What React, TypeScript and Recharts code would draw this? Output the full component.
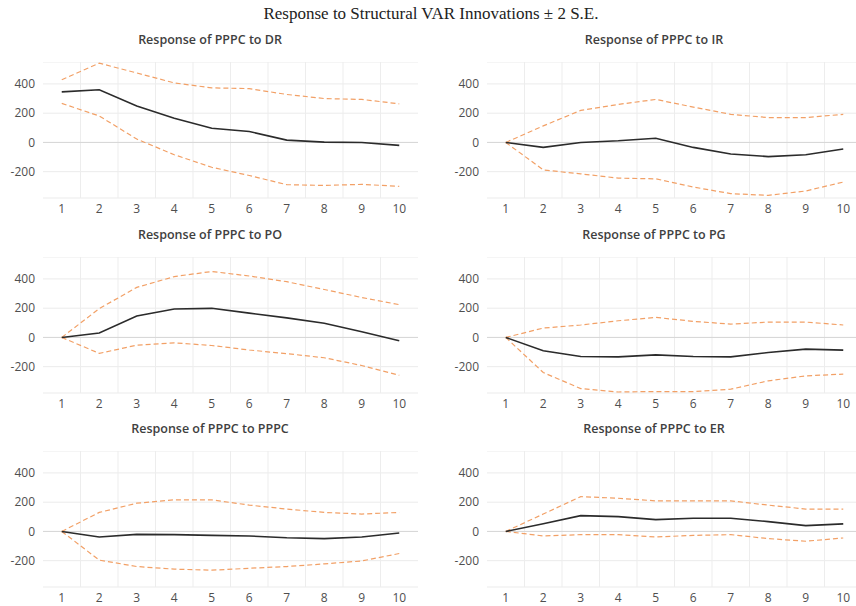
import React from "react";
import { LineChart, Line, XAxis, YAxis, CartesianGrid, ReferenceLine } from "recharts";

const periods = [1, 2, 3, 4, 5, 6, 7, 8, 9, 10];
const yTicks = [-200, 0, 200, 400];
const gridBounds = [1.5, 2.5, 3.5, 4.5, 5.5, 6.5, 7.5, 8.5, 9.5];

const mainTitle = "Response to Structural VAR Innovations \u00b1 2 S.E.";

const drMid = [346, 360, 249, 165, 97, 75, 16, 2, 0, -20];
const drUp = [429, 542, 475, 407, 373, 368, 328, 300, 294, 264];
const drLo = [267, 181, 23, -84, -170, -226, -289, -294, -287, -300];

const irMid = [0, -34, 0, 11, 29, -34, -79, -97, -84, -45];
const irUp = [0, 113, 219, 260, 294, 242, 192, 170, 170, 192];
const irLo = [0, -188, -215, -244, -249, -305, -350, -362, -332, -271];

const poMid = [0, 30, 146, 194, 199, 166, 134, 97, 39, -23];
const poUp = [0, 197, 342, 416, 451, 420, 381, 328, 273, 224];
const poLo = [0, -109, -53, -37, -55, -86, -111, -139, -192, -259];

const pgMid = [0, -91, -130, -133, -119, -130, -133, -103, -80, -87];
const pgUp = [0, 64, 85, 114, 137, 110, 91, 105, 105, 85];
const pgLo = [0, -240, -350, -373, -370, -370, -354, -297, -263, -251];

const ppMid = [0, -38, -20, -22, -27, -31, -43, -49, -38, -11];
const ppUp = [0, 130, 193, 216, 216, 180, 153, 130, 119, 130];
const ppLo = [0, -196, -240, -258, -265, -252, -240, -222, -202, -151];

const erMid = [0, 52, 108, 101, 81, 90, 90, 67, 40, 52];
const erUp = [0, 119, 238, 227, 209, 209, 209, 180, 153, 153];
const erLo = [0, -31, -22, -22, -38, -27, -22, -49, -67, -45];

const buildRows = (mid: number[], up: number[], lo: number[]) =>
  periods.map((p, i) => ({ period: p, mid: mid[i], up: up[i], lo: lo[i] }));

const tickStyle = { fontSize: 12, fill: "#4f4f4f", fontFamily: "'Open Sans', sans-serif" };

type PanelProps = {
  title: string;
  mid: number[];
  up: number[];
  lo: number[];
  left: number;
  top: number;
};

function Panel({ title, mid, up, lo, left, top }: PanelProps) {
  const data = buildRows(mid, up, lo);
  return (
    <>
      <div
        style={{
          position: "absolute",
          left: left,
          top: top - 30,
          width: 420,
          textAlign: "center",
          fontFamily: "'Open Sans', sans-serif",
          fontWeight: 600,
          fontSize: 12.5,
          lineHeight: "16px",
          color: "#404040",
        }}
      >
        {title}
      </div>
      <div style={{ position: "absolute", left: left, top: top }}>
        <LineChart width={428} height={160} data={data} margin={{ top: 0, right: 10, bottom: 0, left: 0 }}>
          <CartesianGrid vertical={false} stroke="#ebebeb" />
          {gridBounds.map((g) => (
            <ReferenceLine key={g} x={g} stroke="#ededed" strokeWidth={1} />
          ))}
          <ReferenceLine y={0} stroke="#d6d6d6" strokeWidth={1} />
          <XAxis
            dataKey="period"
            type="number"
            domain={[0.5, 10.5]}
            ticks={periods}
            axisLine={false}
            tickLine={false}
            tickMargin={0}
            height={24}
            tick={tickStyle}
            interval={0}
          />
          <YAxis
            type="number"
            domain={[-380, 550]}
            ticks={yTicks}
            axisLine={false}
            tickLine={false}
            width={43}
            tick={tickStyle}
            interval={0}
          />
          <Line dataKey="up" type="linear" stroke="#F2A066" strokeWidth={1.2} strokeDasharray="5 3" dot={false} isAnimationActive={false} />
          <Line dataKey="lo" type="linear" stroke="#F2A066" strokeWidth={1.2} strokeDasharray="5 3" dot={false} isAnimationActive={false} />
          <Line dataKey="mid" type="linear" stroke="#2b2b2b" strokeWidth={1.6} dot={false} isAnimationActive={false} />
        </LineChart>
      </div>
    </>
  );
}

export default function App() {
  return (
    <div
      style={{
        position: "fixed",
        left: 0,
        top: 0,
        width: 856,
        height: 606,
        overflow: "hidden",
        background: "#ffffff",
      }}
    >
      <div
        style={{
          position: "absolute",
          left: 0,
          top: 5,
          width: 862,
          textAlign: "center",
          fontFamily: "'Liberation Serif', 'Times New Roman', serif",
          fontSize: 17,
          lineHeight: "18px",
          color: "#222",
        }}
      >
        {mainTitle}
      </div>
      <Panel title="Response of PPPC to DR" mid={drMid} up={drUp} lo={drLo} left={0} top={62} />
      <Panel title="Response of PPPC to IR" mid={irMid} up={irUp} lo={irLo} left={444} top={62} />
      <Panel title="Response of PPPC to PO" mid={poMid} up={poUp} lo={poLo} left={0} top={257} />
      <Panel title="Response of PPPC to PG" mid={pgMid} up={pgUp} lo={pgLo} left={444} top={257} />
      <Panel title="Response of PPPC to PPPC" mid={ppMid} up={ppUp} lo={ppLo} left={0} top={451} />
      <Panel title="Response of PPPC to ER" mid={erMid} up={erUp} lo={erLo} left={444} top={451} />
    </div>
  );
}
